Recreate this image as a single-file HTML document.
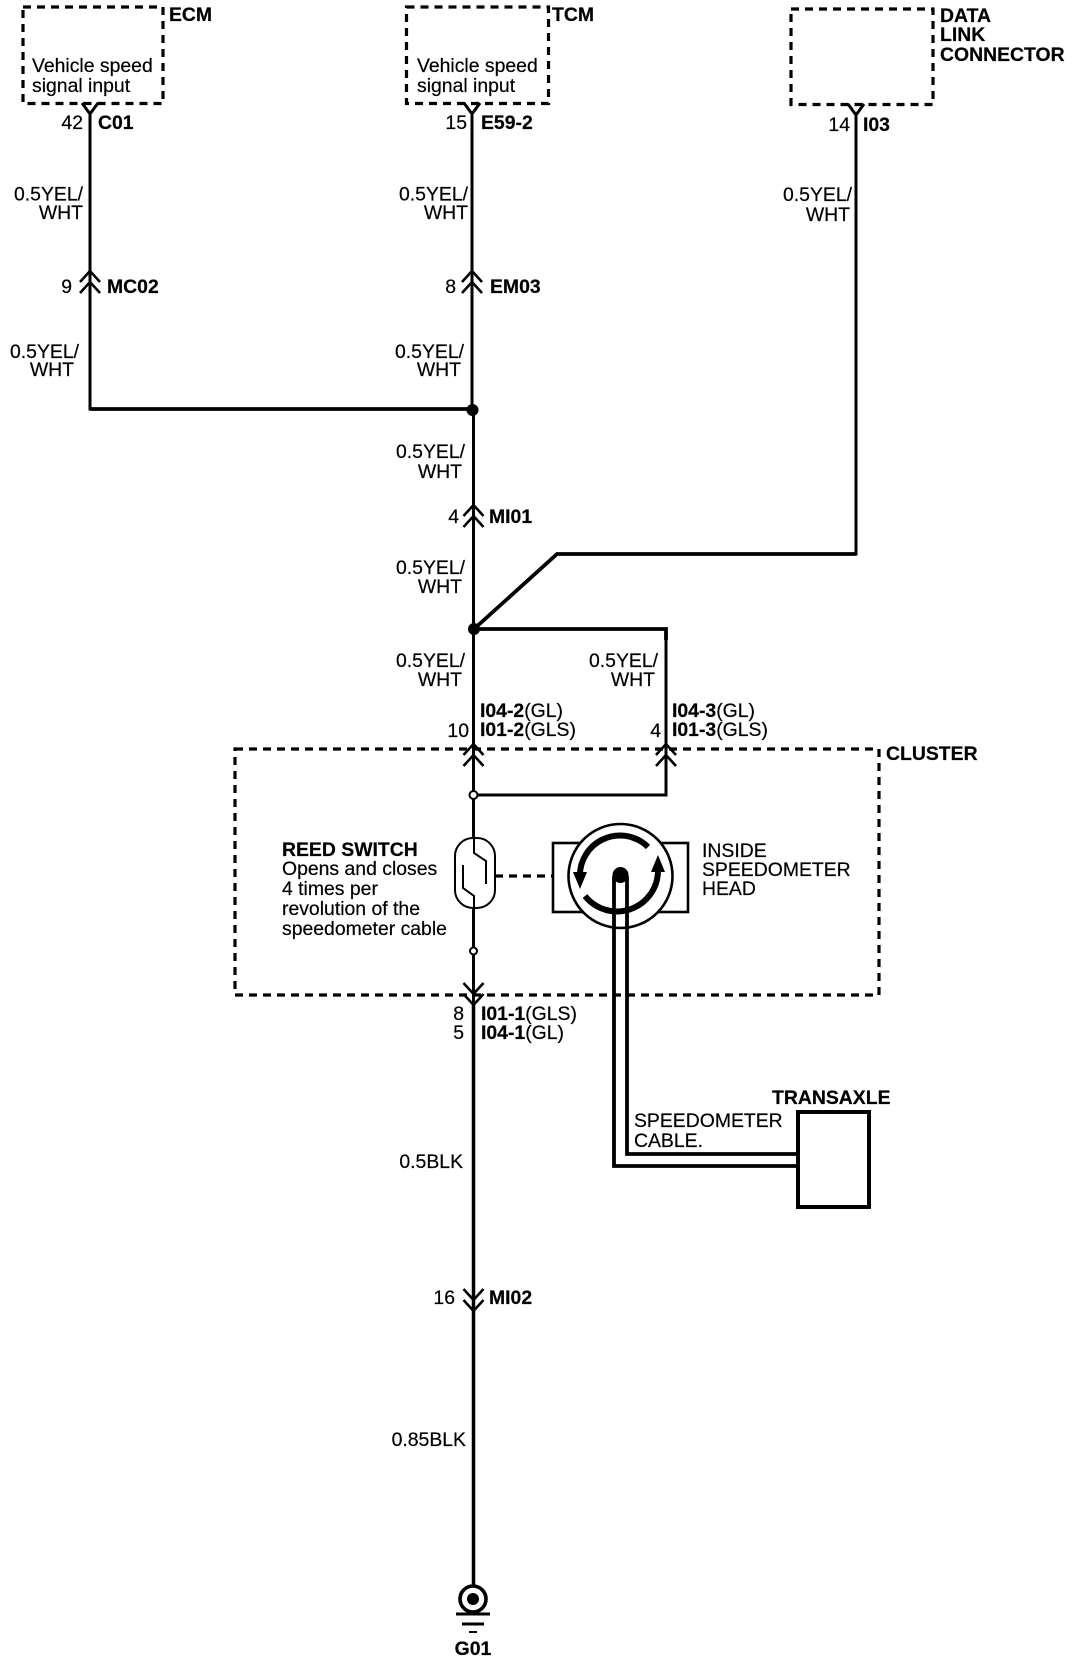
<!DOCTYPE html>
<html><head><meta charset="utf-8"><style>
html,body{margin:0;padding:0;background:#fff}
svg{display:block}
text{font-family:"Liberation Sans",sans-serif;font-size:19.4px;fill:#000;stroke:#000;stroke-width:.2}
.b{font-weight:bold}
.e{text-anchor:end}
.m{text-anchor:middle}
</style></head><body>
<svg width="1088" height="1660" viewBox="0 0 1088 1660" xmlns="http://www.w3.org/2000/svg">
<rect width="1088" height="1660" fill="#fff"/>
<g fill="none" stroke="#000" stroke-width="3">
<g stroke-dasharray="8 6" stroke-width="3.2">
<rect x="23" y="7" width="140" height="96.5"/>
<rect x="406.5" y="7" width="142" height="96.5"/>
<rect x="791" y="9" width="142" height="95.5"/>
<rect x="235" y="749" width="644" height="246"/>
<path d="M495 876H553"/>
</g>
<path d="M90 115V409H472.5M472 115V410M473.5 410V1590M856 115V554H557L474 629H666V795H474" stroke-linejoin="miter"/>
<path d="M90 409H472.5M856 554H557L474 629H666V640" stroke-width="3.8"/>
<path d="M473.5 1005V1590" stroke-width="3.5"/>
<path d="M82 103l8 11l8-11M464 103l8 11l8-11M848 104l8 11l8-11"/>
<path d="M80 282l10-11l10 11M80 293l10-11l10 11M462 282l10-11l10 11M462 293l10-11l10 11M463.5 516l10-11l10 11M463.5 527l10-11l10 11M463.5 755l10-11l10 11M463.5 766l10-11l10 11M656 755l10-11l10 11M656 766l10-11l10 11" stroke-width="2.6"/>
<path d="M463.5 983l10 11l10-11M463.5 994l10 11l10-11M463.5 1289l10 11l10-11M463.5 1300l10 11l10-11" stroke-width="2.6"/>
<rect x="455" y="838" width="40" height="70" rx="18" fill="#fff" stroke-width="2"/>
<path d="M474 838V853L486 861V884M463 865V888L474 896V908" stroke-width="2"/>
<rect x="553" y="843" width="135" height="69" fill="#fff" stroke-width="2.6"/>
<circle cx="620.5" cy="876" r="52" fill="#fff" stroke-width="2.6"/>
<path d="M580 878A40 40 0 0 1 648 847" stroke-width="6"/>
<path d="M585 896A41 41 0 0 0 658 872" stroke-width="6"/>
<path d="M614 876V1166H798M627 876V1154H798" stroke-width="3.8"/>
<rect x="798" y="1112" width="71" height="95" stroke-width="4"/>
<circle cx="473" cy="1599" r="13" stroke-width="3.6" fill="#fff"/>
<path d="M456 1614H490M462 1624H484" stroke-width="3"/>
<path d="M469 1632H477" stroke-width="2"/>
</g>
<circle cx="472.5" cy="410" r="6"/><circle cx="474" cy="629" r="6"/>
<circle cx="620.5" cy="875" r="8"/><circle cx="473" cy="1599" r="6"/>
<circle cx="473.5" cy="795" r="4" fill="#fff" stroke="#000" stroke-width="2"/>
<circle cx="473.5" cy="951" r="3.5" fill="#fff" stroke="#000" stroke-width="2"/>
<path d="M573 872h14l-7 17zM651 872h14l-7-17z"/>
<text class="b" x="169" y="21">ECM</text>
<text class="b" x="552" y="21">TCM</text>
<text class="b" x="940" y="22">DATA</text><text class="b" x="940" y="41">LINK</text><text class="b" x="940" y="61">CONNECTOR</text>
<text x="32" y="72">Vehicle speed</text><text x="32" y="92">signal input</text>
<text x="417" y="72">Vehicle speed</text><text x="417" y="92">signal input</text>
<text class="e" x="83" y="129">42</text><text class="b" x="98" y="129">C01</text>
<text class="e" x="467" y="129">15</text><text class="b" x="481" y="129">E59-2</text>
<text class="e" x="850" y="131">14</text><text class="b" x="863" y="131">I03</text>
<text class="e" x="83" y="200.500">0.5YEL/</text><text class="e" x="83" y="219">WHT</text>
<text class="e" x="468" y="200.500">0.5YEL/</text><text class="e" x="468" y="219">WHT</text>
<text class="e" x="852" y="201">0.5YEL/</text><text class="e" x="850" y="221">WHT</text>
<text class="e" x="72" y="293">9</text><text class="b" x="107" y="293">MC02</text>
<text class="e" x="456" y="293">8</text><text class="b" x="490" y="293">EM03</text>
<text class="e" x="79" y="358">0.5YEL/</text><text class="e" x="74" y="376">WHT</text>
<text class="e" x="464" y="358">0.5YEL/</text><text class="e" x="461" y="376">WHT</text>
<text class="e" x="465" y="458">0.5YEL/</text><text class="e" x="462" y="478">WHT</text>
<text class="e" x="459" y="523">4</text><text class="b" x="489" y="523">MI01</text>
<text class="e" x="465" y="574">0.5YEL/</text><text class="e" x="462" y="593">WHT</text>
<text class="e" x="465" y="667">0.5YEL/</text><text class="e" x="462" y="686">WHT</text>
<text class="e" x="658" y="667">0.5YEL/</text><text class="e" x="655" y="686">WHT</text>
<text x="480" y="717"><tspan class="b">I04-2</tspan>(GL)</text><text x="480" y="736"><tspan class="b">I01-2</tspan>(GLS)</text>
<text class="e" x="469" y="737">10</text>
<text x="672" y="717"><tspan class="b">I04-3</tspan>(GL)</text><text x="672" y="736"><tspan class="b">I01-3</tspan>(GLS)</text>
<text class="e" x="661" y="737">4</text>
<text class="b" x="886" y="760">CLUSTER</text>
<text class="b" x="282" y="856">REED SWITCH</text>
<text x="282" y="875">Opens and closes</text><text x="282" y="895">4 times per</text><text x="282" y="915">revolution of the</text><text x="282" y="935">speedometer cable</text>
<text x="702" y="857">INSIDE</text><text x="702" y="876">SPEEDOMETER</text><text x="702" y="895">HEAD</text>
<text class="e" x="464" y="1020">8</text><text x="481" y="1020"><tspan class="b">I01-1</tspan>(GLS)</text>
<text class="e" x="464" y="1039">5</text><text x="481" y="1039"><tspan class="b">I04-1</tspan>(GL)</text>
<text x="634" y="1127">SPEEDOMETER</text><text x="634" y="1147">CABLE.</text>
<text class="b" x="772" y="1104">TRANSAXLE</text>
<text class="e" x="463" y="1168">0.5BLK</text>
<text class="e" x="455" y="1304">16</text><text class="b" x="489" y="1304">MI02</text>
<text class="e" x="466" y="1446">0.85BLK</text>
<text class="b m" x="473" y="1655">G01</text>
</svg>
</body></html>
